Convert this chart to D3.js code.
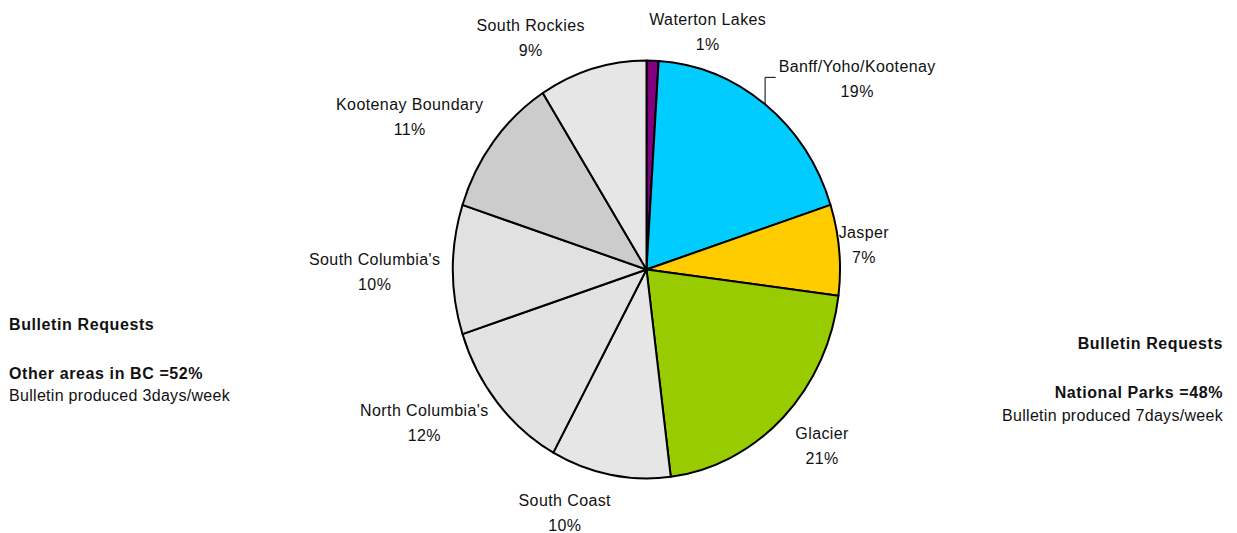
<!DOCTYPE html>
<html>
<head>
<meta charset="utf-8">
<script src="https://cdn.jsdelivr.net/npm/d3@7"></script>
<style>
  body { margin: 0; background: #fff; }
  svg text { font-family: "Liberation Sans", Arial, sans-serif; fill: #111; }
</style>
</head>
<body>
<svg id="chart" width="1237" height="533"></svg>
<script>
// bulletin requests by forecast region (percent)
const regions = ["Waterton Lakes", "Banff/Yoho/Kootenay", "Jasper", "Glacier", "South Coast",
                 "North Columbia's", "South Columbia's", "Kootenay Boundary", "South Rockies"];
const shares = [1, 19, 7, 21, 10, 12, 10, 11, 9];
const sliceColors = ["#800080", "#00ccff", "#ffcc00", "#99cc00", "#e6e6e6",
                     "#e3e3e3", "#e1e1e1", "#cccccc", "#e6e6e6"];
const leftNote = ["Bulletin Requests", "Other areas in BC =52%", "Bulletin produced 3days/week"];
const rightNote = ["Bulletin Requests", "National Parks =48%", "Bulletin produced 7days/week"];

// hand tweaks so labels sit where the original chart put them
const labelNudge = [[53, 6], [38, 2], [-10, -2], [13, 3], [-35, 2], [-16, -3], [-3, 1], [-18, -4], [-44, 2]];

const svg = d3.select("#chart");
const cx = 646.5, cy = 269.5, rx = 193.5, ry = 209;

const pie = d3.pie().sort(null).value(d => d)(shares);
const arc = d3.arc().innerRadius(0).outerRadius(rx);

const pieG = svg.append("g")
    .attr("transform", "translate(" + cx + "," + cy + ") scale(1," + (ry / rx) + ")");

pieG.selectAll("path")
    .data(pie)
    .enter().append("path")
        .attr("d", arc)
        .attr("fill", (d, i) => sliceColors[i])
        .attr("stroke", "#000")
        .attr("stroke-width", 2)
        .attr("vector-effect", "non-scaling-stroke")
        .attr("stroke-linejoin", "round");

// data labels
const labels = svg.append("g");
pie.forEach((d, i) => {
    let mid = (d.startAngle + d.endAngle) / 2;
    let s = Math.sin(mid), c = Math.cos(mid);
    let g = labels.append("g");
    let t1 = g.append("text").attr("text-anchor", "middle").style("font-size", "16px")
        .style("letter-spacing", "0.4px").text(regions[i]);
    let t2 = g.append("text").attr("text-anchor", "middle").style("font-size", "16px")
        .style("letter-spacing", "0.4px").text(shares[i] + "%");
    let w = Math.max(t1.node().getComputedTextLength(), t2.node().getComputedTextLength());
    let px = cx + rx * 1.05 * s, py = cy - ry * 1.05 * c;
    let bx = px + s * w / 2 + labelNudge[i][0];
    let by = py - c * 25 + labelNudge[i][1];
    t1.attr("x", bx).attr("y", by - 6);
    t2.attr("x", bx).attr("y", by + 19);

    // leader line when the label was dragged away from the slice
    if (regions[i] == "Banff/Yoho/Kootenay") {
        let ex = cx + rx * s, ey = cy - ry * c;
        let left = bx - w / 2 - 3;
        svg.append("path")
            .attr("d", "M" + ex + "," + ey + "V" + (by - 1) + "H" + left)
            .attr("fill", "none")
            .attr("stroke", "#000")
            .attr("stroke-width", 1);
    }
});

// side notes
const addNote = (lines, x, ys, anchor) => {
    lines.forEach((txt, i) => {
        svg.append("text")
            .attr("x", x)
            .attr("y", ys[i])
            .attr("text-anchor", anchor)
            .style("font-size", "16px")
            .style("font-weight", i < 2 ? "bold" : "normal")
            .style("letter-spacing", i < 2 ? "0.6px" : "0.3px")
            .text(txt);
    });
}
addNote(leftNote, 9, [330, 379, 401], "start");
addNote(rightNote, 1223, [349, 398, 421], "end");
</script>
</body>
</html>
